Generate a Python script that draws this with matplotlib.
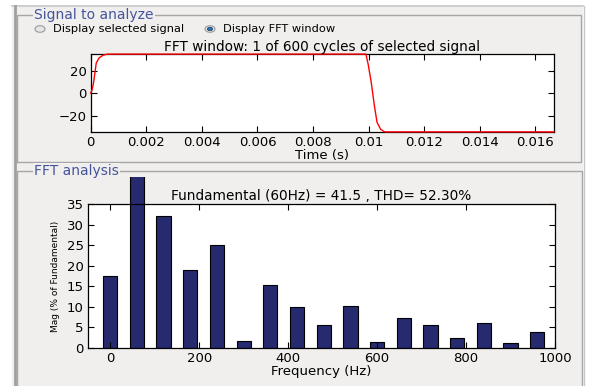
import matplotlib
matplotlib.use('Agg')
from matplotlib import pyplot as plt
from matplotlib.patches import Rectangle, Circle
from matplotlib.lines import Line2D

# signal in the FFT window (one cycle)
time_s = [0, 0.00005, 0.0001, 0.00015, 0.0002, 0.0003, 0.00045, 0.0006,
          0.0099, 0.00998, 0.01009, 0.01021, 0.0103, 0.01043, 0.01055, 0.0106, 1 / 60]
signal = [0, 3, 9, 18, 27, 31.5, 34, 34.9,
          34.9, 26, 10, -12, -26, -32.3, -34.3, -34.6, -34.6]

# harmonic spectrum, % of fundamental
freq_hz = [0, 60, 120, 180, 240, 300, 360, 420, 480, 540, 600, 660, 720, 780, 840, 900, 960]
mag_pct = [17.6, 100, 32.1, 18.9, 25.0, 1.7, 15.3, 10.0, 5.7, 10.3, 1.5, 7.2, 5.7, 2.4, 6.0, 1.3, 4.0]

W, H = 590, 386
BG = '#f0efee'
FRAME = '#a6a6a6'
BLUE_TXT = '#45559a'

plt.rcParams['font.family'] = 'DejaVu Sans'
plt.rcParams['font.size'] = 8


def fx(x):
    return x / W


def fy(y):
    return 1 - y / H


fig = plt.figure(figsize=(W / 100, H / 100), dpi=100, facecolor='white')

# GUI background
fig.patches.append(Rectangle((fx(12), 0), fx(583 - 12), fy(5), transform=fig.transFigure,
                             facecolor=BG, edgecolor='none', zorder=-5))
fig.lines.append(Line2D([fx(12), fx(583)], [fy(5.5), fy(5.5)], transform=fig.transFigure,
                        color='#c8c8c8', lw=1.2))
fig.lines.append(Line2D([fx(14.5), fx(14.5)], [fy(5.5), 0], transform=fig.transFigure,
                        color='#a0a0a0', lw=2))
fig.lines.append(Line2D([fx(583.5), fx(583.5)], [fy(5.5), 0], transform=fig.transFigure,
                        color='#c8c8c8', lw=1))


def panel(x0, y0, x1, y1, title, tx):
    fig.lines.append(Line2D([fx(x0), fx(x0), fx(x1), fx(x1), fx(x0)],
                            [fy(y1), fy(y0), fy(y0), fy(y1), fy(y1)],
                            transform=fig.transFigure, color=FRAME, lw=1))
    fig.text(fx(tx), fy(y0), title, color=BLUE_TXT, fontsize=10, va='center', ha='left',
             bbox=dict(facecolor=BG, edgecolor='none', pad=1))


panel(17, 15, 581, 162, 'Signal to analyze', 34)
panel(17, 171, 582, 400, 'FFT analysis', 34)

# radio buttons
for cx, label, on in [(40, 'Display selected signal', False), (210, 'Display FFT window', True)]:
    fig.patches.append(Circle((fx(cx), fy(29)), 0.0085, transform=fig.transFigure,
                              facecolor='#e6e6e6', edgecolor='#9a9a9a', lw=0.8))
    if on:
        fig.patches.append(Circle((fx(cx), fy(29)), 0.0045, transform=fig.transFigure,
                                  facecolor='#2a6fb0', edgecolor='#1c3f66', lw=0.5))
    fig.text(fx(cx + 13), fy(29), label, fontsize=8.2, va='center', ha='left')

# --- time signal
ax1 = fig.add_axes([fx(90.7), fy(132), fx(554 - 90.7), (132 - 54) / H])
ax1.plot(time_s, signal, color='red', lw=1, clip_on=False, zorder=3)
ax1.set_xlim(0, 1 / 60)
ax1.set_ylim(-34.7, 35.0)
ax1.set_xticks([0, 0.002, 0.004, 0.006, 0.008, 0.01, 0.012, 0.014, 0.016])
ax1.set_xticklabels(['0', '0.002', '0.004', '0.006', '0.008', '0.01', '0.012', '0.014', '0.016'])
ax1.set_yticks([-20, 0, 20])
ax1.set_title('FFT window: 1 of 600 cycles of selected signal', fontsize=9.8, pad=2)
ax1.set_xlabel('Time (s)', fontsize=9.5, labelpad=0)

# --- spectrum
ax2 = fig.add_axes([fx(88), fy(348), fx(555 - 88), (348 - 204) / H])
bars = ax2.bar(freq_hz, mag_pct, width=32, color='#262a6e', edgecolor='black', lw=0.8)
clip = Rectangle((0, fy(348)), 1, fy(176.7) - fy(348), transform=fig.transFigure)
for b in bars:
    b.set_clip_path(clip)
ax2.set_xlim(-50, 1000)
ax2.set_ylim(0, 35)
ax2.set_xticks([0, 200, 400, 600, 800, 1000])
ax2.set_yticks([0, 5, 10, 15, 20, 25, 30, 35])
ax2.set_title('Fundamental (60Hz) = 41.5 , THD= 52.30%', fontsize=9.8, pad=3)
ax2.set_xlabel('Frequency (Hz)', fontsize=9.5, labelpad=0)
ax2.set_ylabel('Mag (% of Fundamental)', fontsize=6.5, labelpad=5)

for ax in (ax1, ax2):
    ax.set_zorder(3)
    ax.set_facecolor('white')
    ax.tick_params(direction='in', length=4, width=0.8, top=True, right=True,
                   labelsize=9.5, pad=3)
    for s in ax.spines.values():
        s.set_linewidth(0.9)

fig.savefig('out.png', dpi=100, facecolor='white')
